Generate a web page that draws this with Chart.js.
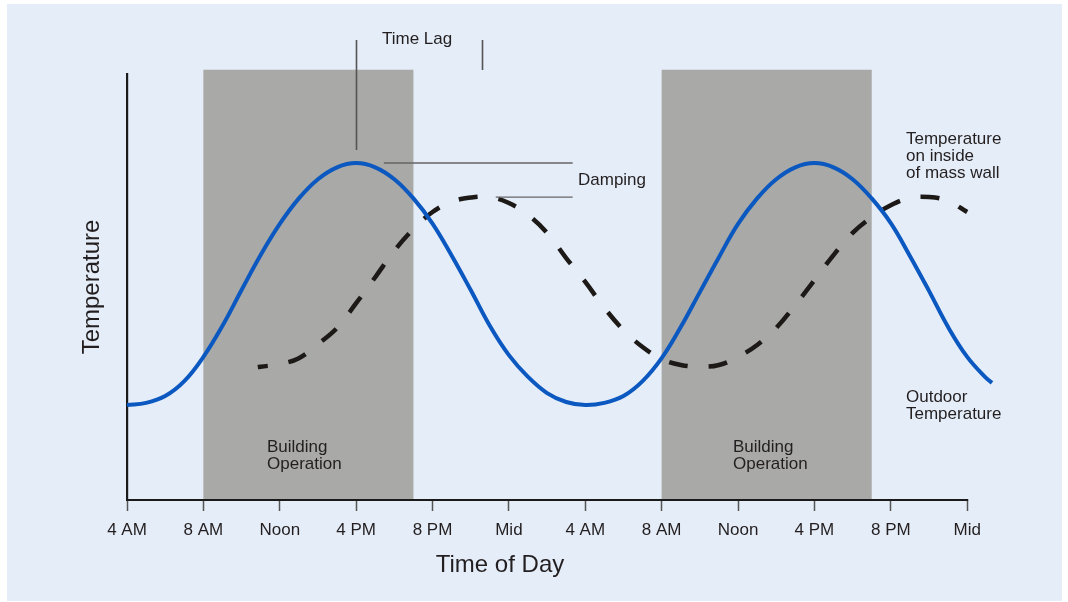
<!DOCTYPE html>
<html>
<head>
<meta charset="utf-8">
<script src="https://cdn.jsdelivr.net/npm/chart.js@4.4.1/dist/chart.umd.min.js"></script>
<style>
  html, body { margin: 0; padding: 0; background: #ffffff; }
  canvas { display: block; }
</style>
</head>
<body>
<canvas id="c" width="1068" height="602"></canvas>
<script>
// ---- data (hours after 4 AM; temperature in arbitrary units 0-100) ----
const tickLabels = ['4 AM', '8 AM', 'Noon', '4 PM', '8 PM', 'Mid', '4 AM', '8 AM', 'Noon', '4 PM', '8 PM', 'Mid'];

const outdoorHours = [0,1,2,3,4,5,6,7,8,9,10,11,12,13,14,15,16,17,18,19,20,21,22,23,24,25,26,27,28,29,30,31,32,33,34,35,36,37,38,39,40,41,42,43,44,45,45.3];
const outdoorTemp = [22.3,22.8,24.4,27.9,33.6,40.9,49.3,57.5,64.8,70.8,75.3,78.1,79.1,78.1,75.3,70.8,64.9,57.4,49.3,40.9,34.0,28.9,25.1,23.0,
                     22.3,22.8,24.4,27.9,33.3,40.6,48.8,57.0,64.8,70.8,75.3,78.1,79.1,78.1,75.3,70.8,65.0,57.3,49.1,40.6,33.6,28.6,27.5];

const insideHours = [6.85,7,8,9,10,11,12,13,14,15,16,17,18,19,20,21,22,23,24,25,26,27,28,29,30,31,32,33,34,35,36,37,38,39,40,41,42,43,44];
const insideTemp = [31.2,31.3,31.9,33.3,36.6,40.4,46.2,52.3,58.5,63.6,67.6,70.0,71.0,71.1,69.7,66.9,62.7,56.8,51.2,45.1,39.9,35.9,33.1,31.7,
                    31.3,31.7,33.6,36.4,40.4,45.8,51.6,57.5,62.7,66.4,69.2,70.9,71.1,70.2,67.6];

const operationStart = [4, 28];
const operationEnd = [15, 39];

const lagMarks = [12, 18.58];      // peak hours of outdoor and inside curves
const dampingLevels = [79.1, 71.1]; // peak temperatures of the two curves
const axisEndHour = 44;             // the time axis stops at midnight

// ---- helpers ----
const toXY = (hs, vs) => hs.map((h, i) => ({ x: h, y: vs[i] }));
const TXT = '#231f20';
const SMALL = '17px "Liberation Sans", Arial, sans-serif';

const decor = {
  id: 'decor',
  beforeDraw(chart) {
    const { ctx, scales: { x, y } } = chart;
    ctx.save();
    ctx.fillStyle = '#ffffff';
    ctx.fillRect(0, 0, chart.width, chart.height);
    ctx.fillStyle = '#e5edf8';
    ctx.fillRect(7, 4, 1055, 597);
    ctx.fillStyle = '#a9a9a7';
    const top = y.getPixelForValue(101);
    const bottom = y.getPixelForValue(0);
    operationStart.forEach((s, i) => {
      const x0 = x.getPixelForValue(s);
      const x1 = x.getPixelForValue(operationEnd[i]);
      ctx.fillRect(x0, top, x1 - x0, bottom - top);
    });
    ctx.restore();
  },
  beforeDatasetsDraw(chart) {
    const { ctx, scales: { x, y } } = chart;
    ctx.save();
    ctx.strokeStyle = '#1a1a1a';
    ctx.lineWidth = 2.2;
    const by = y.getPixelForValue(0);
    ctx.beginPath();
    ctx.moveTo(x.getPixelForValue(0) - 1, by);
    ctx.lineTo(x.getPixelForValue(axisEndHour) + 1, by);
    ctx.stroke();
    ctx.restore();
  },
  afterDatasetsDraw(chart) {
    const { ctx, scales: { x, y } } = chart;
    ctx.save();
    // Time lag markers
    ctx.strokeStyle = '#555555';
    ctx.lineWidth = 1.6;
    const lx0 = Math.round(x.getPixelForValue(lagMarks[0])) + 0.5;
    const lx1 = Math.round(x.getPixelForValue(lagMarks[1])) + 0.5;
    ctx.beginPath();
    ctx.moveTo(lx0, 40); ctx.lineTo(lx0, 150);
    ctx.moveTo(lx1, 40); ctx.lineTo(lx1, 70);
    ctx.stroke();
    // Damping markers
    ctx.strokeStyle = '#666666';
    ctx.lineWidth = 1.4;
    const dy0 = y.getPixelForValue(dampingLevels[0]);
    const dy1 = y.getPixelForValue(dampingLevels[1]);
    ctx.beginPath();
    ctx.moveTo(x.getPixelForValue(13.45), dy0); ctx.lineTo(x.getPixelForValue(23.34), dy0);
    ctx.moveTo(x.getPixelForValue(19.31), dy1); ctx.lineTo(x.getPixelForValue(23.34), dy1);
    ctx.stroke();

    // labels
    ctx.fillStyle = TXT;
    ctx.font = SMALL;
    ctx.textAlign = 'left';
    ctx.textBaseline = 'alphabetic';
    ctx.fillText('Time Lag', 382, 43.5);
    ctx.fillText('Damping', 578, 184.5);
    ctx.fillText('Temperature', 906, 144);
    ctx.fillText('on inside', 906, 161);
    ctx.fillText('of mass wall', 906, 178);
    ctx.fillText('Outdoor', 906, 402);
    ctx.fillText('Temperature', 906, 419);
    ctx.fillText('Building', 267, 452);
    ctx.fillText('Operation', 267, 468.5);
    ctx.fillText('Building', 733, 452);
    ctx.fillText('Operation', 733, 468.5);

    // x axis title
    ctx.font = '24px "Liberation Sans", Arial, sans-serif';
    ctx.textAlign = 'center';
    ctx.fillText('Time of Day', 500, 572);
    ctx.restore();
  }
};

new Chart(document.getElementById('c'), {
  type: 'line',
  data: {
    datasets: [
      {
        label: 'Outdoor Temperature',
        data: toXY(outdoorHours, outdoorTemp),
        borderColor: '#0a58c0',
        borderWidth: 4,
        pointRadius: 0,
        tension: 0.4,
        clip: false,
        fill: false
      },
      {
        label: 'Temperature on inside of mass wall',
        data: toXY(insideHours, insideTemp),
        borderColor: '#1c1917',
        borderWidth: 4.5,
        borderDash: [19, 21],
        borderDashOffset: 9,
        pointRadius: 0,
        tension: 0.4,
        clip: false,
        fill: false
      }
    ]
  },
  options: {
    responsive: false,
    devicePixelRatio: 1,
    animation: false,
    layout: { padding: { top: 74, right: 76, bottom: 0, left: 0 } },
    plugins: { legend: { display: false }, tooltip: { enabled: false } },
    scales: {
      x: {
        type: 'linear',
        min: 0,
        max: 45.3,
        afterFit: (s) => { s.height = 102; },
        afterBuildTicks: (s) => { s.ticks = tickLabels.map((_, i) => ({ value: i * 4 })); },
        ticks: {
          autoSkip: false,
          maxRotation: 0,
          padding: 9,
          color: TXT,
          font: { family: '"Liberation Sans", Arial, sans-serif', size: 17 },
          callback: (v) => tickLabels[Math.round(v / 4)]
        },
        grid: {
          display: true,
          drawOnChartArea: false,
          drawTicks: true,
          tickLength: 11,
          tickColor: '#555555',
          tickWidth: 1.5
        },
        border: { display: false }
      },
      y: {
        min: 0,
        max: 100,
        afterFit: (s) => { s.width = 127; },
        ticks: { display: false },
        grid: { display: false },
        border: { display: true, color: '#1a1a1a', width: 2.2 },
        title: {
          display: true,
          text: 'Temperature',
          color: TXT,
          font: { family: '"Liberation Sans", Arial, sans-serif', size: 24 },
          padding: { top: 78, bottom: 0 }
        }
      }
    }
  },
  plugins: [decor]
});
</script>
</body>
</html>
